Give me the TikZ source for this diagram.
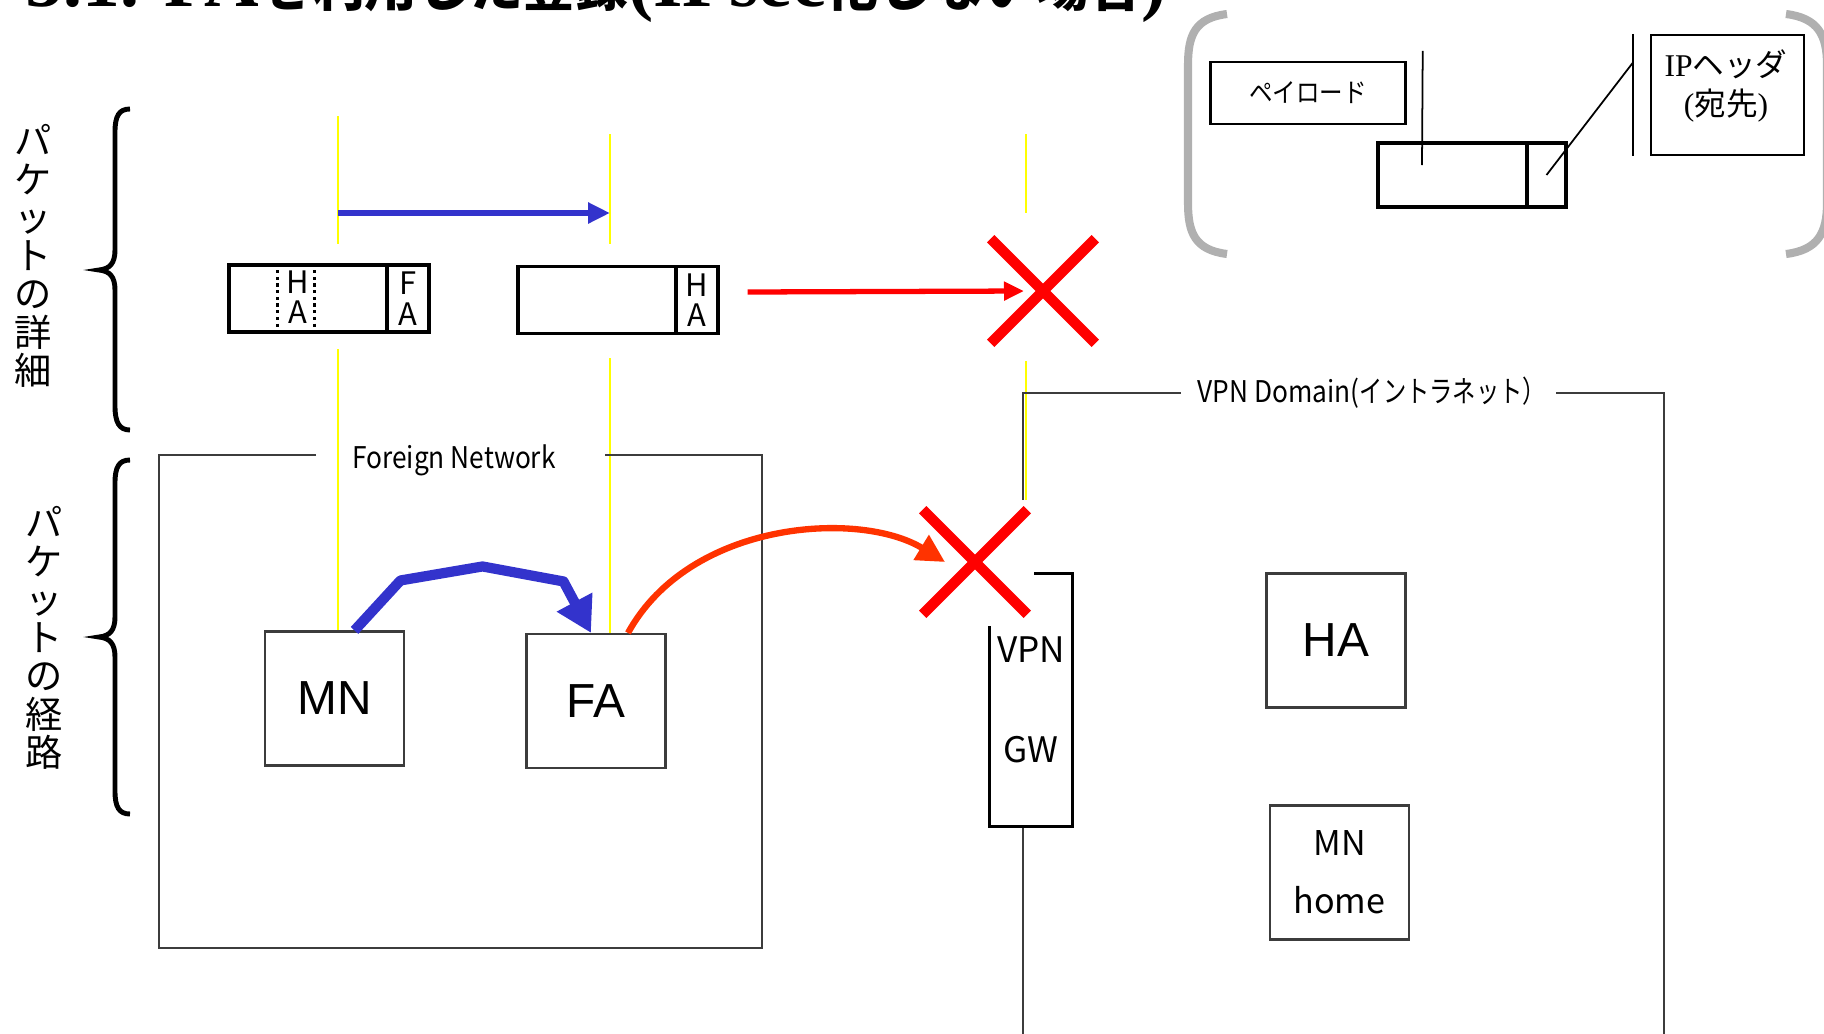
\documentclass[tikz,border=0pt]{standalone}
\usepackage{fontspec}
\setmainfont{Liberation Serif}
\setsansfont{Liberation Sans}
\newfontfamily\jp{Noto Sans CJK JP}
\newfontfamily\jpn{Noto Sans CJK JP}[FakeStretch=0.88]
\newfontfamily\jpk{Noto Sans CJK JP}[FakeStretch=0.78]
\definecolor{mipblue}{RGB}{51,51,204}
\definecolor{mipred}{RGB}{255,0,0}
\definecolor{miporange}{RGB}{255,51,0}
\definecolor{mipyellow}{RGB}{255,255,0}
\definecolor{bracegray}{RGB}{176,176,176}
\definecolor{linegray}{RGB}{60,60,60}
\usetikzlibrary{arrows.meta,shapes.misc}
\newcommand\ttljp[1]{{\jp\bfseries\fontsize{15}{16}\selectfont #1}}

\begin{document}
\begin{tikzpicture}[x=1cm,y=-1cm,
      box/.style={draw=linegray,line width=0.6pt,minimum width=1.39cm,
                  minimum height=1.34cm,inner sep=0pt},
      big/.style={font=\sffamily\fontsize{13.6}{14}\selectfont},
      pkt/.style={draw,line width=0.9pt,minimum width=2cm,minimum height=0.67cm,inner sep=0pt},
      hd/.style={draw,line width=0.9pt,minimum width=0.42cm,minimum height=0.67cm,
                 inner sep=0pt,align=center,font=\jp\fontsize{8.8}{8.7}\selectfont},
      ylw/.style={draw=mipyellow,line width=0.6pt},
      xm/.style={draw=mipred,cross out,line width=3pt,minimum size=0.94cm,inner sep=0pt},
      lbl/.style={font=\jpn\fontsize{8.5}{10}\selectfont,inner sep=1pt},
      vlbl/.style={font=\jp\fontsize{10.6}{10.9}\selectfont,align=center,inner sep=0pt},
      brc/.style={line width=1.4pt},
      frm/.style={draw=linegray,line width=0.6pt},
      gbr/.style={draw=bracegray,line width=2.3pt},
      barr/.style={draw=mipblue,line width=1.7pt,-{Triangle[length=0.22cm,width=0.2cm]}},
      rarr/.style={draw=mipred,line width=1.5pt,-{Triangle[length=0.2cm,width=0.18cm]}},
      carr/.style={draw=mipblue,line width=2.9pt,line join=round,
                   -{Triangle[length=0.35cm,width=0.38cm]}},
      oarr/.style={draw=miporange,line width=1.8pt,-{Triangle[length=0.28cm,width=0.28cm]}}]
  \useasboundingbox (0,0) rectangle (18.24,10.33);

  \node[anchor=base west,inner sep=0pt,font=\bfseries\fontsize{21.5}{22}\selectfont] (ttl) at (0.25,0.065)
    {5.1. FA\ttljp{を利用した登録}(IPsec\ttljp{化しない場合})};

  \node[vlbl] (d1) at (0.33,2.56) {パ\\ケ\\ッ\\ト\\の\\詳\\細};
  \node[vlbl] (d2) at (0.44,6.38) {パ\\ケ\\ッ\\ト\\の\\経\\路};
  \draw[brc] (1.30,1.09) .. controls (1.19,1.09) and (1.15,1.16) .. (1.15,1.32) -- (1.15,2.50)
    .. controls (1.15,2.63) and (1.10,2.69) .. (0.99,2.70) .. controls (1.10,2.71) and (1.15,2.77) .. (1.15,2.90)
    -- (1.15,4.06) .. controls (1.15,4.22) and (1.19,4.30) .. (1.30,4.30);
  \draw[brc] (1.30,4.60) .. controls (1.19,4.60) and (1.15,4.67) .. (1.15,4.83) -- (1.15,6.17)
    .. controls (1.15,6.30) and (1.10,6.36) .. (0.99,6.37) .. controls (1.10,6.38) and (1.15,6.44) .. (1.15,6.57)
    -- (1.15,7.91) .. controls (1.15,8.07) and (1.19,8.14) .. (1.30,8.14);

  \draw[ylw] (3.38,1.16) -- (3.38,2.44) (3.38,3.49) -- (3.38,6.32);
  \draw[ylw] (6.10,1.34) -- (6.10,2.44) (6.10,3.58) -- (6.10,6.34);
  \draw[ylw] (10.26,1.34) -- (10.26,2.13) (10.26,3.61) -- (10.26,5.00);

  \draw[frm] (3.16,4.55) -- (1.59,4.55) -- (1.59,9.48) -- (7.62,9.48) -- (7.62,4.55) -- (6.05,4.55);
  \node[lbl] (fn) at (4.54,4.60) {Foreign Network};
  \draw[frm] (10.23,5.00) -- (10.23,3.93) -- (11.81,3.93);
  \draw[frm] (15.56,3.93) -- (16.64,3.93) -- (16.64,10.40);
  \draw[frm] (10.23,8.26) -- (10.23,10.40);
  \node[lbl] (vd) at (13.72,3.93) {VPN Domain({\jpk イントラネット）}};

  \node[pkt] (p1) at (3.29,2.985) {};
  \node[hd,anchor=east] (p1h) at (p1.east) {F\\A};
  \draw[densely dotted,line width=0.9pt] ([xshift=0.5cm]p1.north west) -- ([xshift=0.5cm]p1.south west);
  \draw[densely dotted,line width=0.9pt] ([xshift=0.87cm]p1.north west) -- ([xshift=0.87cm]p1.south west);
  \node[font=\jp\fontsize{8.8}{8.7}\selectfont,align=center,inner sep=0pt] (p1a) at (2.98,2.97) {H\\A};
  \node[pkt] (p2) at (6.18,3.00) {};
  \node[hd,anchor=east] (p2h) at (p2.east) {H\\A};

  \coordinate (ba) at (3.38,2.13);
  \coordinate (bb) at (6.10,2.13);
  \draw[barr] (ba) -- (bb);

  \node[xm] (x1) at (10.43,2.91) {};
  \node[xm] (x2) at (9.75,5.62) {};
  \draw[rarr] ([xshift=0.28cm,yshift=0.08cm]p2.east) -- ([xshift=-0.19cm]x1.center);

  \node[box,big] (mn) at (3.345,6.985) {MN};
  \node[box,big] (fa) at (5.96,7.01) {FA};
  \node[box,big] (ha) at (13.36,6.405) {HA};
  \node[box,align=center,font=\jp\fontsize{9.7}{16.5}\selectfont] (mnh) at (13.395,8.725) {MN\\home};

  \node[inner sep=0pt,minimum width=0.82cm,minimum height=2.52cm,align=center,
        font=\jp\fontsize{10}{28.5}\selectfont] (gw) at (10.31,7.0) {VPN\\GW};
  \draw[line width=1pt] ([xshift=0.45cm]gw.north west) -- (gw.north east) -- (gw.south east)
    -- (gw.south west) -- ([yshift=-0.53cm]gw.north west);

  \draw[carr] ([xshift=0.2cm]mn.north) -- ++(0.46,-0.50) -- ++(0.82,-0.14) -- ++(0.81,0.15)
    -- ([xshift=-0.05cm]fa.north);
  \draw[oarr] ([xshift=0.32cm]fa.north) .. controls (6.9,5.2) and (8.6,5.1) .. ([xshift=-0.30cm]x2.center);

  \draw[gbr] (12.27,0.14) .. controls (11.95,0.18) and (11.88,0.35) .. (11.88,0.65) -- (11.88,2.03)
    .. controls (11.88,2.33) and (11.95,2.50) .. (12.27,2.54);
  \draw[gbr] (17.86,0.14) .. controls (18.18,0.18) and (18.27,0.35) .. (18.27,0.65) -- (18.27,2.03)
    .. controls (18.27,2.33) and (18.18,2.50) .. (17.86,2.54);
  \node[draw,line width=0.7pt,minimum width=1.95cm,minimum height=0.62cm,inner sep=0pt,
        font=\jpn\fontsize{7.6}{9}\selectfont] (pay) at (13.08,0.93) {ペイロード};
  \node[pkt,minimum width=1.88cm,minimum height=0.64cm] (leg) at (14.72,1.75) {};
  \node[hd,minimum width=0.39cm,minimum height=0.64cm,anchor=east] (legh) at (leg.east) {};
  \node[draw,line width=0.7pt,minimum width=1.53cm,minimum height=1.20cm,inner sep=0pt] (ip) at (17.275,0.95) {};
  \node[align=center,inner sep=0pt,font=\fontsize{9}{11}\selectfont] (ipt) at (17.26,0.86) {IP{\jp ヘッダ}\\({\jp 宛先})};
  \draw[line width=0.5pt] ([xshift=0.16cm,yshift=0.1cm]pay.north east) -- ([xshift=-0.5cm,yshift=0.1cm]leg.center);
  \draw[line width=0.5pt] ([xshift=-0.17cm]ip.north west) -- ([xshift=-0.17cm]ip.south west);
  \draw[line width=0.5pt] (legh.center) -- ([xshift=-0.17cm,yshift=-0.29cm]ip.north west);
\end{tikzpicture}
\end{document}
